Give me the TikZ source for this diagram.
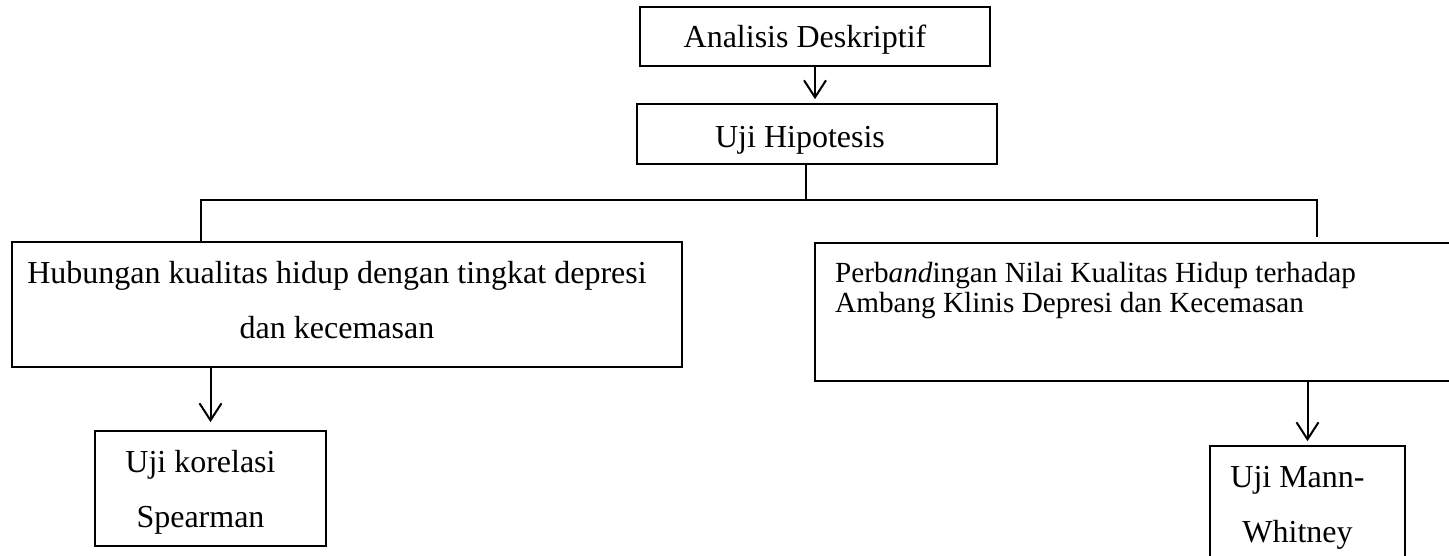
\documentclass[tikz,border=0pt]{standalone}
\usepackage{fontspec}
\setmainfont{Liberation Serif}
\usetikzlibrary{arrows.meta}
\begin{document}
\begin{tikzpicture}[x=1pt,y=-1pt,
  box/.style={draw, line width=1.7pt, inner sep=0pt},
  ln/.style={line width=2pt},
  arr/.style={line width=2pt, -{Straight Barb[length=17pt,width=22pt,line width=2pt]}},
  big/.style={font=\fontsize{32}{55}\selectfont}]
\useasboundingbox (0,0) rectangle (1449,556);

\node[box, big, minimum width=350pt, minimum height=59pt, text height=29pt, text depth=7pt] (ad) at (815,36.5) {\hspace*{-20pt}Analisis Deskriptif};
\node[box, big, minimum width=360pt, minimum height=60pt, text height=34pt, text depth=7pt] (uh) at (817,134) {\hspace*{-34pt}Uji Hipotesis};

\node[box, big, align=center, minimum width=670pt, minimum height=125pt] (hk) at (347,304.5)
  {\hspace*{-20pt}Hubungan kualitas hidup dengan tingkat depresi\\\hspace*{-20pt}dan kecemasan\rule[-9pt]{0pt}{0pt}};

\node[box, minimum width=641pt, minimum height=138pt, anchor=north west] (pb) at (814,242) {};
\node[anchor=north west, inner sep=0pt, align=left, font=\fontsize{29.2}{30}\selectfont] (pbt) at (835,262)
  {Perb\textit{and}ingan Nilai Kualitas Hidup terhadap\\Ambang Klinis Depresi dan Kecemasan};

\node[box, big, align=center, minimum width=231pt, minimum height=115pt] (sp) at (210.5,488.5)
  {\hspace*{-20pt}\rule{0pt}{30pt}Uji korelasi\\\hspace*{-20pt}Spearman};
\node[box, big, align=center, minimum width=195pt, minimum height=118pt] (mw) at (1307.5,505)
  {\hspace*{-20pt}\rule{0pt}{27pt}Uji Mann-\\\hspace*{-20pt}Whitney};

\coordinate (j) at (806,200);
\coordinate (jl) at (201,200);
\coordinate (jr) at (1317,200);

\draw[arr] (ad.south) -- ([yshift=4pt]uh.north -| ad.south);
\draw[ln] (uh.south -| j) -- (j);
\draw[ln] (hk.north -| jl) -- (jl) -- (jr) -- ([yshift=5pt]pb.north -| jr);
\draw[arr] (hk.south -| sp.north) -- ([yshift=8pt]sp.north);
\draw[arr] (pb.south -| mw.north) -- ([yshift=4pt]mw.north);
\end{tikzpicture}
\end{document}
